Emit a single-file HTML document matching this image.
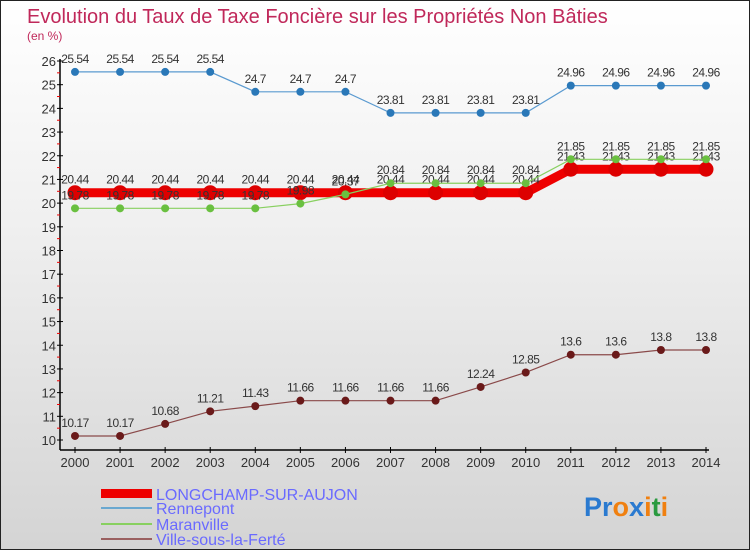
<!DOCTYPE html>
<html><head><meta charset="utf-8"><style>
body{margin:0;width:750px;height:550px;overflow:hidden}
#wrap{position:relative;width:748px;height:548px;border:1px solid #222;background:linear-gradient(#fff 0%,#f0f0f0 40%,#d4d4d4 100%);font-family:"Liberation Sans",sans-serif}
</style></head><body>
<div id="wrap">
<svg id="chart" width="748" height="548" xmlns="http://www.w3.org/2000/svg">
<text x="26" y="22" font-size="20" fill="#c0285a">Evolution du Taux de Taxe Foncière sur les Propriétés Non Bâties</text>
<text x="26" y="39" font-size="12" fill="#c0285a">(en %)</text>
<g id="axes"></g><g id="series"></g>
<g>
<rect x="100" y="488" width="51" height="9" fill="#ee0000"/>
<text x="155" y="499" font-size="16" fill="#6a6aff">LONGCHAMP-SUR-AUJON</text>
<line x1="100" y1="507" x2="151" y2="507" stroke="#6aa8d0" stroke-width="2"/>
<text x="155" y="513" font-size="16" fill="#6a6aff">Rennepont</text>
<line x1="100" y1="523" x2="151" y2="523" stroke="#88d060" stroke-width="2"/>
<text x="155" y="529" font-size="16" fill="#6a6aff">Maranville</text>
<line x1="100" y1="538" x2="151" y2="538" stroke="#9a6060" stroke-width="2"/>
<text x="155" y="544" font-size="16" fill="#6a6aff">Ville-sous-la-Ferté</text>
</g>
<text x="583" y="515" font-size="27" font-weight="bold"><tspan fill="#2a7ad0">Pr</tspan><tspan fill="#f08010">o</tspan><tspan fill="#2a7ad0">x</tspan><tspan fill="#f08010">i</tspan><tspan fill="#2a9a40">t</tspan><tspan fill="#f08010">i</tspan></text>
</svg></div>
<script>
const years=[2000,2001,2002,2003,2004,2005,2006,2007,2008,2009,2010,2011,2012,2013,2014];
const yTicks=[10,11,12,13,14,15,16,17,18,19,20,21,22,23,24,25,26];
const longchamp=[20.44,20.44,20.44,20.44,20.44,20.44,20.44,20.44,20.44,20.44,20.44,21.43,21.43,21.43,21.43];
const rennepont=[25.54,25.54,25.54,25.54,24.7,24.7,24.7,23.81,23.81,23.81,23.81,24.96,24.96,24.96,24.96];
const maranville=[19.78,19.78,19.78,19.78,19.78,19.98,20.37,20.84,20.84,20.84,20.84,21.85,21.85,21.85,21.85];
const villeSous=[10.17,10.17,10.68,11.21,11.43,11.66,11.66,11.66,11.66,12.24,12.85,13.6,13.6,13.8,13.8];
const NS="http://www.w3.org/2000/svg";
const xs=i=>74+i*(705-74)/(years.length-1);
const ys=v=>439-(v-10)*(439-60)/16;
function mk(t,a,p){const e=document.createElementNS(NS,t);for(const k in a)e.setAttribute(k,a[k]);p.appendChild(e);return e;}
const ax=document.getElementById('axes');
let l=mk('line',{x1:59,y1:58,x2:59,y2:449,stroke:'#000','stroke-width':1.5},ax);


l=mk('line',{x1:59,y1:449,x2:708,y2:449,stroke:'#000','stroke-width':1.5},ax);


yTicks.forEach(v=>{const y=ys(v);
mk('line',{x1:56,y1:y,x2:62,y2:y,stroke:'#000'},ax);
if(v<26)mk('line',{x1:56,y1:ys(v+0.5),x2:59,y2:ys(v+0.5),stroke:'#e00'},ax);
const t=mk('text',{x:55,y:y+5,'font-size':13,fill:'#333','text-anchor':'end'},ax);t.textContent=v;

});
years.forEach((yr,i)=>{const x=xs(i);
mk('line',{x1:x,y1:446,x2:x,y2:452,stroke:'#000'},ax);
const t=mk('text',{x:x,y:466,'font-size':13,fill:'#333','text-anchor':'middle'},ax);t.textContent=yr;

});
const sg=document.getElementById('series');
function draw(vals,name,color,w,r,dot){
const g=mk('g',{},sg);


const p=mk('polyline',{points:vals.map((v,i)=>xs(i)+','+ys(v)).join(' '),fill:'none',stroke:color,'stroke-width':w},g);


vals.forEach((v,i)=>{const c=mk('circle',{cx:xs(i),cy:ys(v),r:r,fill:dot},g);


const t=mk('text',{x:xs(i),y:ys(v)-9,'font-size':12,fill:'#333','text-anchor':'middle','letter-spacing':'-0.5'},g);t.textContent=v;

});}
draw(rennepont,'rennepont','#5a9ad0',1.2,4,'#2a78b8');
draw(villeSous,'ville-sous-la-ferte','#8a4a4a',1.2,4,'#6a1a1a');
draw(longchamp,'longchamp','#ee0000',9,7.5,'#dd0000');
draw(maranville,'maranville','#88d060',1.2,4,'#6ac040');
</script>
</body></html>
